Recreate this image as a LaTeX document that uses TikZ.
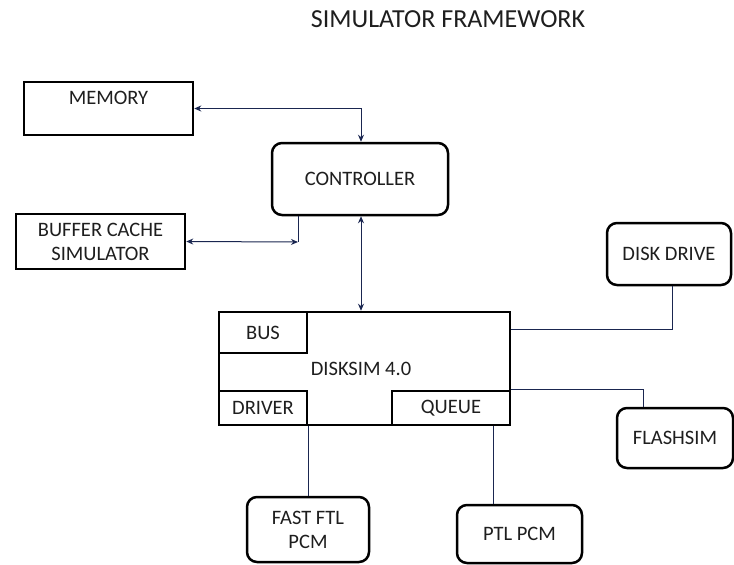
\documentclass[tikz,border=0pt]{standalone}
\usepackage{fontspec}
\setmainfont{Carlito}
\usetikzlibrary{arrows.meta}
\definecolor{conn}{HTML}{1A2650}
\definecolor{ink}{HTML}{1E1E1E}
\begin{document}
\begin{tikzpicture}[x=1pt,y=-1pt,
  box/.style={draw=black,line width=2.5pt,rectangle,inner sep=0pt,text=ink,font=\fontsize{20.5}{24}\selectfont,align=center},
  rbox/.style={box,rounded corners=10pt},
  line/.style={draw=conn,line width=1pt},
  arr/.style={line,{Stealth[length=7pt,width=6pt]}-{Stealth[length=7pt,width=6pt]}}
]
\useasboundingbox (0,0) rectangle (734,565);
\node[text=ink,font=\fontsize{26}{30}\selectfont] (title) at (448,19) {SIMULATOR FRAMEWORK};

\node[box,minimum width=169pt,minimum height=53pt,text height=22pt,text depth=31pt] (mem) at (108.5,108.5) {MEMORY};
\node[rbox,minimum width=176pt,minimum height=72pt] (ctrl) at (360,179) {CONTROLLER};
\node[box,minimum width=169pt,minimum height=55pt] (buf) at (100.5,241.5) {BUFFER CACHE\\SIMULATOR};

\node[box,minimum width=291pt,minimum height=113pt] (ds) at (364.5,368.5) {};
\node[text=ink,font=\fontsize{20.5}{24}\selectfont] (dstext) at (361,369) {DISKSIM 4.0};
\node[box,minimum width=88pt,minimum height=41pt] (bus) at (263,332.5) {BUS};
\node[box,minimum width=88pt,minimum height=34pt] (drv) at (263,408) {DRIVER};
\node[box,minimum width=118pt,minimum height=34pt] (q) at (451,408) {QUEUE};

\node[rbox,minimum width=124pt,minimum height=62pt] (dd) at (669,254) {DISK DRIVE};
\node[rbox,minimum width=116pt,minimum height=60pt] (fs) at (675,438) {FLASHSIM};
\node[rbox,minimum width=122pt,minimum height=65pt] (fast) at (308,529.5) {FAST FTL\\PCM};
\node[rbox,minimum width=125pt,minimum height=58pt] (ptl) at (519.5,534) {PTL PCM};

\draw[arr] (mem.east) -| ([xshift=1pt]ctrl.north);
\coordinate (bc) at (298,242);
\draw[arr] (buf.east) -- (bc);
\draw[line] (bc) -- (bc |- ctrl.south);
\draw[arr] ([xshift=1pt]ctrl.south) -- ([xshift=1pt]ctrl.south |- ds.north);

\draw[line] ([yshift=39.5pt]ds.east) -| ([xshift=3pt]dd.south);
\draw[line] (q.north east) -| ([xshift=-32pt]fs.north);
\draw[line] (drv.south east) -- (drv.south east |- fast.north);
\draw[line] ([xshift=42pt]q.south) -- ([xshift=42pt]q.south |- ptl.north);
\end{tikzpicture}
\end{document}
